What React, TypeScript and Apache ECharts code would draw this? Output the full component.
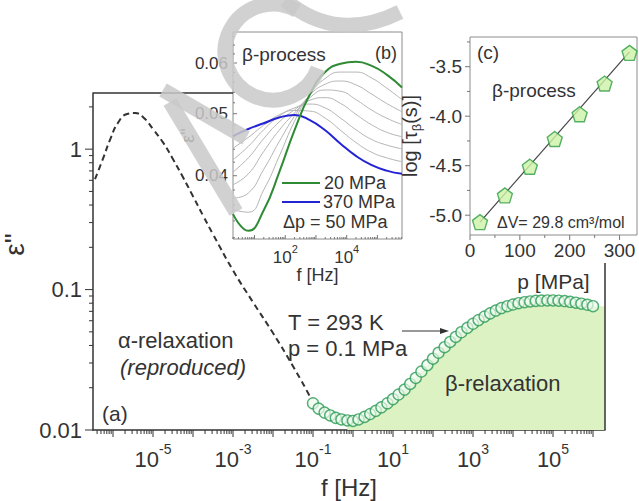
import React, { useEffect, useRef } from 'react';
import * as echarts from 'echarts';

const FONT = '"Liberation Sans", Arial, Helvetica, sans-serif';
const INK = '#333333';

// ---------- (a) main spectrum, T = 293 K, p = 0.1 MPa ----------
// beta relaxation: log10(f / Hz) and eps''
const betaLogF = [-1.0, -0.86, -0.71, -0.57, -0.43, -0.29, -0.14, 0.0, 0.14, 0.29, 0.43, 0.57, 0.71, 0.86, 1.0, 1.14, 1.29, 1.43, 1.57, 1.71, 1.86, 2.0, 2.14, 2.29, 2.43, 2.57, 2.71, 2.86, 3.0, 3.14, 3.29, 3.43, 3.57, 3.71, 3.86, 4.0, 4.14, 4.29, 4.43, 4.57, 4.71, 4.86, 5.0, 5.14, 5.29, 5.43, 5.57, 5.71, 5.86, 6.0];
const betaEps = [0.0155, 0.0142, 0.0133, 0.0127, 0.0122, 0.0119, 0.0117, 0.0116, 0.0119, 0.0124, 0.0130, 0.0137, 0.0145, 0.0155, 0.0166, 0.0179, 0.0194, 0.0213, 0.0235, 0.0261, 0.0290, 0.0322, 0.0355, 0.0389, 0.0424, 0.0460, 0.0497, 0.0534, 0.0571, 0.0607, 0.0643, 0.0677, 0.0709, 0.0738, 0.0762, 0.0783, 0.0800, 0.0813, 0.0823, 0.0831, 0.0835, 0.0837, 0.0837, 0.0834, 0.0828, 0.0818, 0.0807, 0.0794, 0.0780, 0.0762];
// alpha relaxation (reproduced), dashed
const alphaLogF = [-6.45, -6.24, -6.07, -5.87, -5.65, -5.45, -5.24, -5.0, -4.75, -4.5, -4.25, -4.0, -3.75, -3.5, -3.0, -2.5, -2.0, -1.5, -1.07];
const alphaEps = [0.611, 0.871, 1.175, 1.549, 1.778, 1.807, 1.683, 1.39, 1.117, 0.849, 0.631, 0.462, 0.337, 0.248, 0.137, 0.0813, 0.049, 0.0285, 0.0172];
const mainYTickLabels = ['0.01', '0.1', '1'];
const mainXLabelExponents = [-5, -3, -1, 1, 3, 5];

// ---------- (b) inset: eps'' spectra vs pressure (log10 f, log10 eps'') ----------
const bLogF = [0.3, 0.8, 1.3, 1.8, 2.3, 2.8, 3.3, 3.8, 4.3, 4.8, 5.3, 5.8];
const bLogEps20 = [-1.458, -1.484, -1.452, -1.393, -1.327, -1.271, -1.236, -1.223, -1.220, -1.226, -1.240, -1.260];
const bLogEps70 = [-1.451, -1.455, -1.420, -1.368, -1.313, -1.271, -1.246, -1.236, -1.236, -1.245, -1.261, -1.279];
const bLogEps120 = [-1.433, -1.425, -1.388, -1.345, -1.305, -1.272, -1.255, -1.250, -1.256, -1.270, -1.285, -1.298];
const bLogEps170 = [-1.412, -1.395, -1.360, -1.327, -1.300, -1.276, -1.264, -1.266, -1.279, -1.295, -1.308, -1.318];
const bLogEps220 = [-1.392, -1.370, -1.340, -1.314, -1.295, -1.280, -1.276, -1.285, -1.302, -1.318, -1.330, -1.337];
const bLogEps270 = [-1.373, -1.352, -1.326, -1.305, -1.292, -1.286, -1.292, -1.308, -1.326, -1.341, -1.350, -1.356];
const bLogEps320 = [-1.355, -1.338, -1.319, -1.303, -1.296, -1.297, -1.308, -1.327, -1.346, -1.361, -1.370, -1.376];
const bLogEps370 = [-1.336, -1.325, -1.316, -1.307, -1.303, -1.311, -1.327, -1.348, -1.367, -1.381, -1.390, -1.395];
const bGrayCurves = [bLogEps70, bLogEps120, bLogEps170, bLogEps220, bLogEps270, bLogEps320];
const bYTickValues = [0.04, 0.05, 0.06];
const bYTickLabels = ['0.04', '0.05', '0.06'];
const bXLabelExponents = [2, 4];

// ---------- (c) inset: log tau_beta vs pressure ----------
const cPressure = [20, 70, 120, 170, 220, 270, 320];
const cLogTau = [-5.07, -4.8, -4.51, -4.23, -3.98, -3.67, -3.36];
const cFitPressure = [20, 320];
const cFitLogTau = [-5.07, -3.35];
const cXTickLabels = [0, 100, 200, 300];
const cYTickLabels = [-5.0, -4.5, -4.0, -3.5];

const PENTAGON = 'path://M0,-10L9.51,-3.09L5.88,8.09L-5.88,8.09L-9.51,-3.09Z';

function logTicks(lo: number, hi: number, major: number, minor: number) {
  const out: number[][] = [];
  for (let n = Math.floor(lo) - 1; n <= Math.ceil(hi); n++) {
    for (let k = 1; k <= 9; k++) {
      const v = n + Math.log10(k);
      if (v >= lo - 1e-9 && v <= hi + 1e-9) out.push([v, k === 1 ? major : minor]);
    }
  }
  return out;
}

function tickSeries(idx: number, orient: string, data: number[][], anchor: number, sign: number, color: string) {
  return {
    type: 'custom',
    xAxisIndex: idx,
    yAxisIndex: idx,
    silent: true,
    clip: false,
    z: 6,
    data,
    renderItem: (_p: any, api: any) => {
      const v = api.value(0);
      const len = api.value(1);
      const pt = orient === 'x' ? api.coord([v, anchor]) : api.coord([anchor, v]);
      const shape = orient === 'x'
        ? { x1: pt[0], y1: pt[1], x2: pt[0], y2: pt[1] + sign * len }
        : { x1: pt[0], y1: pt[1], x2: pt[0] + sign * len, y2: pt[1] };
      return { type: 'line', shape, style: { stroke: color, lineWidth: 1 } };
    },
  };
}

function labelSeries(idx: number, orient: string, values: number[], texts: string[], anchor: number, dx: number, dy: number, align: string, vAlign: string, style: any) {
  return {
    type: 'custom',
    xAxisIndex: idx,
    yAxisIndex: idx,
    silent: true,
    clip: false,
    z: 6,
    data: values.map((v) => [v, 0]),
    renderItem: (p: any, api: any) => {
      const v = api.value(0);
      const pt = orient === 'x' ? api.coord([v, anchor]) : api.coord([anchor, v]);
      return {
        type: 'text',
        x: pt[0] + dx,
        y: pt[1] + dy,
        style: { text: texts[p.dataIndex], align, verticalAlign: vAlign, ...style },
      };
    },
  };
}

function txt(text: string, x: number, y: number, size: number, extra: any = {}) {
  return {
    type: 'text',
    x,
    y,
    z: 10,
    silent: true,
    style: { text, fill: INK, fontSize: size, fontFamily: FONT, align: 'left', verticalAlign: 'middle', ...extra },
  };
}

const WM = { stroke: '#c9c9c9', lineWidth: 15, fill: 'none', opacity: 0.85 };

export default function App() {
  const ref = useRef<HTMLDivElement>(null);
  useEffect(() => {
    if (!ref.current) return;
    const chart = echarts.init(ref.current, undefined, { renderer: 'svg' });

    const mainMin = -6.5, mainMax = 6.3, yMin = -2, yMax = 0.4;
    const bxMin = 0.3, bxMax = 5.8, byMin = -1.4968, byMax = -1.1734;

    const betaPts = betaLogF.map((f, i) => [f, Math.log10(betaEps[i])]);
    const areaPts = betaPts.slice(6).concat([[mainMax, Math.log10(betaEps[betaEps.length - 1])]]);
    const alphaPts = alphaLogF.map((f, i) => [f, Math.log10(alphaEps[i])]);

    const bMinor: number[][] = [];
    for (let k = 32; k <= 66; k += 2) {
      const v = Math.log10(k / 1000);
      if (v >= byMin && v <= byMax) bMinor.push([v, k % 10 === 0 ? 4 : 2]);
    }

    const cXTicks = [0, 50, 100, 150, 200, 250, 300].map((v) => [v, v % 100 === 0 ? 5 : 3]);
    const cYTicks = [-5.0, -4.75, -4.5, -4.25, -4.0, -3.75, -3.5, -3.25].map((v) => [v, Math.abs(v * 2 - Math.round(v * 2)) < 1e-6 ? 5 : 3]);

    const superRich = (base: number, sup: number, color: string) => ({
      b: { fontSize: base, fontFamily: FONT, color, verticalAlign: 'bottom', lineHeight: base + 6 },
      s: { fontSize: sup, fontFamily: FONT, color, verticalAlign: 'top', lineHeight: base + 6 },
    });

    const option: any = {
      animation: false,
      backgroundColor: '#ffffff',
      grid: [
        { left: 93, top: 93, width: 512, height: 337, containLabel: false, outerBoundsMode: 'none' },
        { left: 233, top: 32, width: 169, height: 207, show: true, borderColor: '#8c8c8c', borderWidth: 1, backgroundColor: 'rgba(0,0,0,0)', containLabel: false, outerBoundsMode: 'none' },
        { left: 470, top: 37, width: 167, height: 198, show: true, borderColor: '#8c8c8c', borderWidth: 1, backgroundColor: 'rgba(0,0,0,0)', containLabel: false, outerBoundsMode: 'none' },
      ],
      xAxis: [
        {
          gridIndex: 0, type: 'value', min: mainMin, max: mainMax, interval: 0.5,
          axisLine: { show: true, onZero: false, lineStyle: { color: INK, width: 1.5 } },
          axisTick: { show: false }, splitLine: { show: false },
          axisLabel: {
            margin: 12,
            formatter: (v: number) => {
              const r = Math.round(v);
              return Math.abs(v - r) < 1e-6 && mainXLabelExponents.includes(r) ? `{b|10}{s|${r}}` : '';
            },
            rich: superRich(22, 14, INK),
          },
          name: 'f [Hz]', nameLocation: 'middle', nameGap: 45,
          nameTextStyle: { fontSize: 24, fontFamily: FONT, color: INK },
        },
        {
          gridIndex: 1, type: 'value', min: bxMin, max: bxMax,
          axisLine: { show: false }, axisTick: { show: false }, splitLine: { show: false }, axisLabel: { show: false },
          name: 'f [Hz]', nameLocation: 'middle', nameGap: 27,
          nameTextStyle: { fontSize: 18, fontFamily: FONT, color: INK },
        },
        {
          gridIndex: 2, type: 'value', min: 0, max: 335, interval: 50,
          axisLine: { show: false }, axisTick: { show: false }, splitLine: { show: false },
          axisLabel: {
            margin: 6, fontSize: 19, fontFamily: FONT, color: INK,
            formatter: (v: number) => (cXTickLabels.includes(v) ? String(v) : ''),
          },
          name: 'p [MPa]', nameLocation: 'middle', nameGap: 36,
          nameTextStyle: { fontSize: 21, fontFamily: FONT, color: INK },
        },
      ],
      yAxis: [
        {
          gridIndex: 0, type: 'value', min: yMin, max: yMax, interval: 1,
          axisLine: { show: true, onZero: false, lineStyle: { color: INK, width: 1.5 } },
          axisTick: { show: false }, splitLine: { show: false },
          axisLabel: {
            margin: 11, fontSize: 22, fontFamily: FONT, color: INK,
            formatter: (v: number) => {
              const r = Math.round(v);
              return Math.abs(v - r) < 1e-6 && r >= -2 && r <= 0 ? mainYTickLabels[r + 2] : '';
            },
          },
          name: 'ε"', nameLocation: 'middle', nameGap: 47, nameRotate: 90,
          nameTextStyle: { fontSize: 28, fontFamily: FONT, color: INK, padding: [0, 0, 0, 34] },
        },
        {
          gridIndex: 1, type: 'value', min: byMin, max: byMax,
          axisLine: { show: false }, axisTick: { show: false }, splitLine: { show: false }, axisLabel: { show: false },
          name: 'ε"', nameLocation: 'middle', nameGap: 36, nameRotate: 90,
          nameTextStyle: { fontSize: 18, fontFamily: FONT, color: INK },
        },
        {
          gridIndex: 2, type: 'value', min: -5.2, max: -3.2, interval: 0.1,
          axisLine: { show: false }, axisTick: { show: false }, splitLine: { show: false },
          axisLabel: {
            margin: 8, fontSize: 19, fontFamily: FONT, color: INK,
            formatter: (v: number) => {
              const t = cYTickLabels.find((c) => Math.abs(c - v) < 1e-6);
              return t === undefined ? '' : t.toFixed(1);
            },
          },
          name: 'log [τ{sub|β}(s)]', nameLocation: 'middle', nameGap: 47, nameRotate: 90,
          nameTextStyle: {
            fontSize: 20, fontFamily: FONT, color: INK,
            rich: { sub: { fontSize: 13, fontFamily: FONT, color: INK, verticalAlign: 'bottom', lineHeight: 26 } },
          },
        },
      ],
      series: [
        // (a)
        {
          type: 'line', xAxisIndex: 0, yAxisIndex: 0, data: areaPts, symbol: 'none', smooth: true,
          lineStyle: { width: 0 }, areaStyle: { color: '#ddf2c3', origin: 'start', opacity: 1 }, z: 1, silent: true,
        },
        {
          type: 'line', xAxisIndex: 0, yAxisIndex: 0, data: alphaPts, symbol: 'none', smooth: true,
          lineStyle: { color: '#333333', width: 2, type: [6, 4] }, z: 2,
        },
        {
          type: 'scatter', xAxisIndex: 0, yAxisIndex: 0, data: betaPts, symbol: 'circle', symbolSize: 11,
          itemStyle: { color: 'rgba(238,250,238,0.85)', borderColor: '#2a9a55', borderWidth: 1.4 }, z: 3,
        },
        tickSeries(0, 'x', logTicks(mainMin, mainMax, 7, 4), yMin, 1, INK),
        tickSeries(0, 'y', logTicks(yMin, yMax, 8, 4), mainMin, -1, INK),
        // (b)
        ...bGrayCurves.map((c) => ({
          type: 'line', xAxisIndex: 1, yAxisIndex: 1, data: bLogF.map((f, i) => [f, c[i]]), symbol: 'none', smooth: true,
          lineStyle: { color: '#b4b4b4', width: 1 }, z: 2,
        })),
        {
          type: 'line', xAxisIndex: 1, yAxisIndex: 1, data: bLogF.map((f, i) => [f, bLogEps370[i]]), symbol: 'none', smooth: true,
          lineStyle: { color: '#2424d4', width: 2 }, z: 3,
        },
        {
          type: 'line', xAxisIndex: 1, yAxisIndex: 1, data: bLogF.map((f, i) => [f, bLogEps20[i]]), symbol: 'none', smooth: true,
          lineStyle: { color: '#2e8b34', width: 2 }, z: 4,
        },
        tickSeries(1, 'x', logTicks(bxMin, bxMax, 4, 2), byMin, -1, '#777777'),
        tickSeries(1, 'y', bMinor, bxMin, 1, '#777777'),
        labelSeries(1, 'y', bYTickValues.map((v) => Math.log10(v)), bYTickLabels, bxMin, -5, 0, 'right', 'middle',
          { fill: INK, fontSize: 17, fontFamily: FONT }),
        labelSeries(1, 'x', bXLabelExponents, bXLabelExponents.map((e) => `{b|10}{s|${e}}`), byMin, 0, 4, 'center', 'top',
          { fill: INK, fontSize: 17, fontFamily: FONT, rich: superRich(17, 11, INK) }),
        // (c)
        {
          type: 'line', xAxisIndex: 2, yAxisIndex: 2, data: cFitPressure.map((p, i) => [p, cFitLogTau[i]]), symbol: 'none',
          lineStyle: { color: '#444444', width: 1.2 }, z: 2,
        },
        {
          type: 'scatter', xAxisIndex: 2, yAxisIndex: 2, data: cPressure.map((p, i) => [p, cLogTau[i]]), symbol: PENTAGON, symbolSize: 15,
          itemStyle: { color: '#cdf2a6', borderColor: '#2f9e45', borderWidth: 1.4 }, z: 3,
        },
        tickSeries(2, 'x', cXTicks, -5.2, 1, '#777777'),
        tickSeries(2, 'y', cYTicks, 0, -1, '#777777'),
      ],
      graphic: [
        // main frame partial edges
        { type: 'line', z: 5, silent: true, shape: { x1: 93, y1: 93, x2: 233, y2: 93 }, style: { stroke: INK, lineWidth: 1.5 } },
        { type: 'line', z: 5, silent: true, shape: { x1: 605, y1: 263, x2: 605, y2: 430 }, style: { stroke: INK, lineWidth: 1.5 } },
        // (a) annotations
        txt('α-relaxation', 118, 340, 22),
        txt('(reproduced)', 120, 367, 22, { fontStyle: 'italic' }),
        txt('(a)', 102, 413, 21),
        txt('T = 293 K', 288, 322, 22),
        txt('p = 0.1 MPa', 288, 348, 22),
        { type: 'line', z: 10, silent: true, shape: { x1: 402, y1: 331, x2: 442, y2: 331 }, style: { stroke: INK, lineWidth: 1 } },
        { type: 'polygon', z: 10, silent: true, shape: { points: [[449, 331], [440, 328], [440, 334]] }, style: { fill: INK } },
        txt('β-relaxation', 445, 383, 22),
        // (b) annotations
        txt('β-process', 242, 54, 19),
        txt('(b)', 375, 53, 18),
        { type: 'line', z: 10, silent: true, shape: { x1: 282, y1: 183, x2: 320, y2: 183 }, style: { stroke: '#2e8b34', lineWidth: 2 } },
        txt('20 MPa', 324, 183, 18),
        { type: 'line', z: 10, silent: true, shape: { x1: 282, y1: 202, x2: 320, y2: 202 }, style: { stroke: '#2424d4', lineWidth: 2 } },
        txt('370 MPa', 323, 202, 18),
        txt('Δp = 50 MPa', 283, 222, 18),
        // (c) annotations
        txt('(c)', 477, 52, 19),
        txt('β-process', 492, 90, 19),
        txt('ΔV= 29.8 cm³/mol', 497, 222, 16),
        // watermark (grey tubes)
        { type: 'line', z: 50, silent: true, shape: { x1: 163, y1: 90, x2: 246, y2: 138 }, style: { ...WM, lineCap: 'butt' } },
        { type: 'line', z: 50, silent: true, shape: { x1: 170, y1: 102, x2: 236, y2: 212 }, style: { ...WM, lineCap: 'butt' } },
        { type: 'arc', z: 50, silent: true, shape: { cx: 273, cy: 52, r: 48, startAngle: -Math.PI / 3, endAngle: Math.PI / 9, clockwise: false }, style: { ...WM } },
        { type: 'bezierCurve', z: 50, silent: true, shape: { x1: 285, y1: 0, cpx1: 320, cpy1: 30, cpx2: 360, cpy2: 32, x2: 400, y2: 12 }, style: { ...WM } },
      ],
    };

    chart.setOption(option);
    return () => chart.dispose();
  }, []);

  return <div ref={ref} style={{ position: 'absolute', left: 0, top: 0, width: 639, height: 501, background: '#fff' }} />;
}
